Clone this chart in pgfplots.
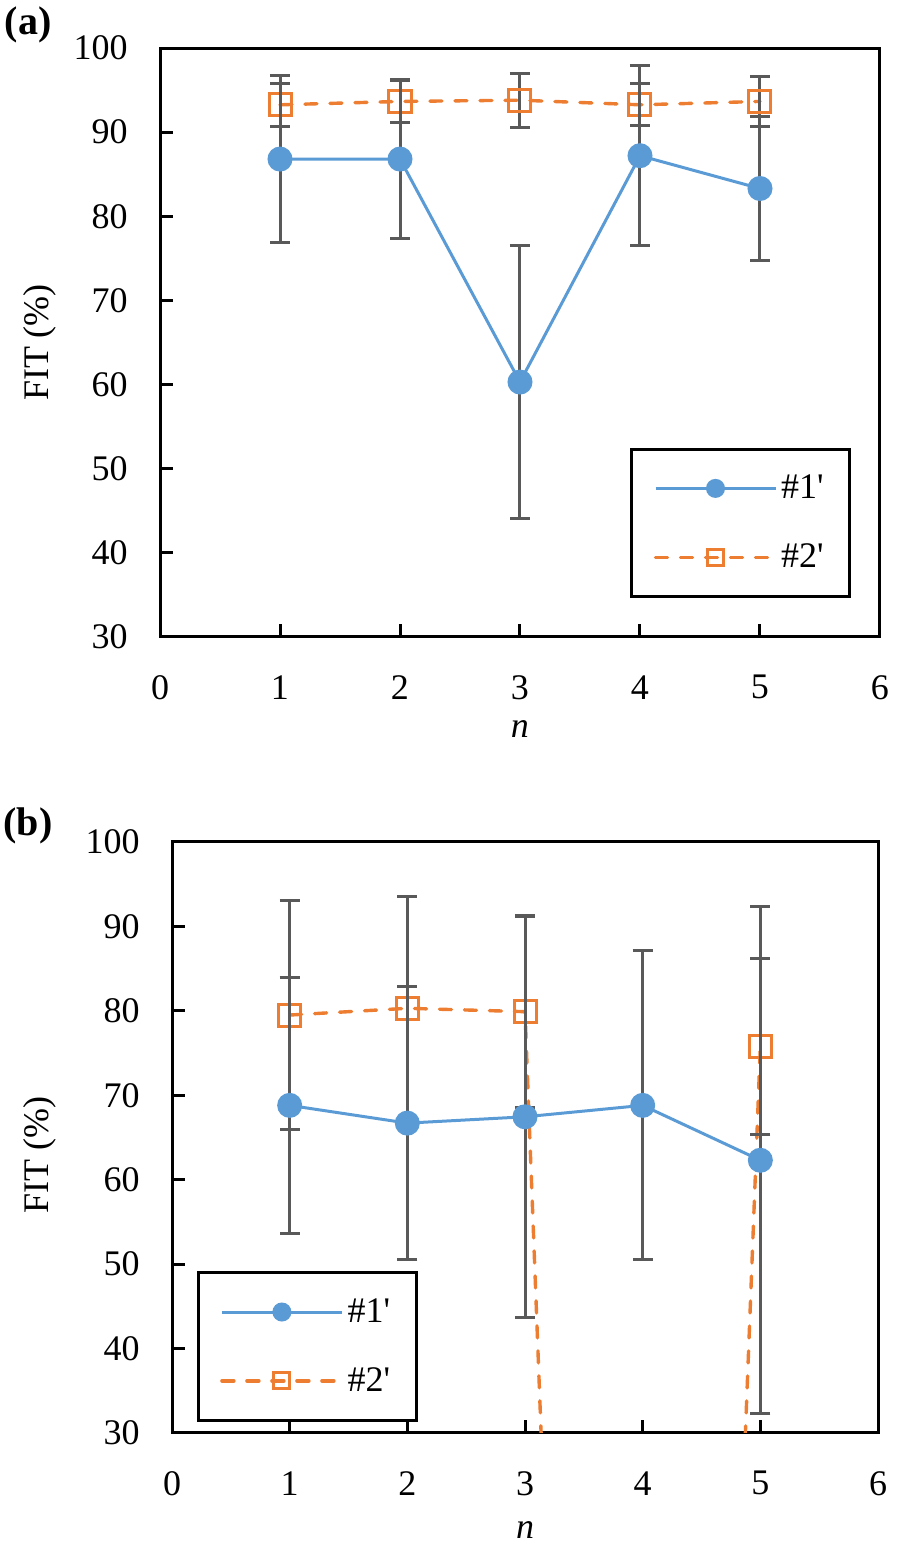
\documentclass[border=0pt]{standalone}
\usepackage{fontspec}
\setmainfont{Liberation Serif}
\usepackage{pgfplots}
\pgfplotsset{compat=1.18}
\definecolor{sblue}{HTML}{5B9BD5}
\definecolor{sorange}{HTML}{ED7D31}
\definecolor{egray}{HTML}{595959}

\pgfplotsset{
  fitaxis/.style={
    scale only axis,
    xmin=0, xmax=6, ymin=30, ymax=100,
    xtick={0,1,2,3,4,5,6}, ytick={30,40,50,60,70,80,90,100},
    tick pos=left, tick align=inside, major tick length=6.5pt,
    axis line style={line width=1.5pt},
    every tick/.append style={black, line width=1.5pt},
    font=\fontsize{18}{21}\selectfont,
    /pgf/number format/assume math mode=true,
    xticklabel style={inner sep=0pt, yshift=-19pt},
    yticklabel style={inner sep=0pt, xshift=-16pt},
    xlabel={\textit{n}}, ylabel={FIT (\%)},
    xlabel style={inner sep=0pt},
    clip mode=individual,
    legend cell align=left,
    reverse legend,
    legend image code/.code={\draw[mark repeat=2,mark phase=2,#1,mark size=4pt] plot coordinates {(0pt,0pt) (30pt,0pt) (60pt,0pt)};},
    legend style={draw=black, line width=1.5pt, fill=white, inner xsep=11pt, inner ysep=11pt, row sep=17pt, font=\fontsize{18}{21}\selectfont},
  },
  sone/.style={color=sblue, line width=1.5pt, mark=*, mark size=5.5pt, mark options={solid, fill=sblue, draw=sblue}},
  stwo/.style={color=sorange, line width=1.7pt, line cap=round, dash pattern=on 6pt off 6.5pt, mark=square, mark size=5.5pt, mark options={solid, draw=sorange, line width=1.5pt}},
  eb/.style={error bars/.cd, y dir=both, y explicit,
    error bar style={color=egray, line width=1.5pt, solid, line cap=butt},
    error mark options={rotate=90, mark size=5pt, line width=1.5pt, color=egray, solid}},
}

\pgfplotstableread{
n y e
1 86.8 9.9
2 86.8 9.4
3 60.3 16.2
4 87.2 10.7
5 83.3 8.5
}\aone
\pgfplotstableread{
n y e
1 93.25 2.55
2 93.65 2.5
3 93.8 3.2
4 93.25 2.5
5 93.65 2.95
}\atwo
\pgfplotstableread{
n y e
1 68.8 15.2
2 66.7 16.2
3 67.45 23.8
4 68.8 18.3
5 62.3 30.0
}\bone
\pgfplotstableread{
n y e
1 79.5 13.6
2 80.3 13.2
3 79.9 11.3
4 -285 0
5 75.8 10.4
}\btwo

\begin{document}
\begin{tikzpicture}
\path[use as bounding box] (0,0) rectangle (448pt,779.5pt);
\begin{axis}[fitaxis, width=360pt, height=294.5pt, at={(80pt,461pt)}, anchor=south west,
  xlabel style={at={(axis description cs:0.5,-0.156)}, anchor=center},
  ylabel style={at={(axis description cs:-0.1667,0.5)}, anchor=center},
  legend style={at={(0.96,0.066)}, anchor=south east}]
\addplot[stwo, eb] table[x=n, y=y, y error=e] {\atwo};
\addlegendentry{\#2\textquotesingle}
\addplot[sone, eb] table[x=n, y=y, y error=e] {\aone};
\addlegendentry{\#1\textquotesingle}
\node[font=\fontsize{20}{24}\selectfont\bfseries] at (axis description cs:-0.183,1.039) {(a)};
\end{axis}
\begin{axis}[fitaxis, width=353pt, height=295.5pt, at={(86pt,63pt)}, anchor=south west,
  xlabel style={at={(axis description cs:0.5,-0.164)}, anchor=center},
  ylabel style={at={(axis description cs:-0.187,0.47)}, anchor=center},
  legend style={at={(0.035,0.019)}, anchor=south west}]
\addplot[stwo, eb] table[x=n, y=y, y error=e] {\btwo};
\addlegendentry{\#2\textquotesingle}
\addplot[sone, eb] table[x=n, y=y, y error=e] {\bone};
\addlegendentry{\#1\textquotesingle}
\node[font=\fontsize{20}{24}\selectfont\bfseries] at (axis description cs:-0.204,1.027) {(b)};
\end{axis}
\end{tikzpicture}
\end{document}
